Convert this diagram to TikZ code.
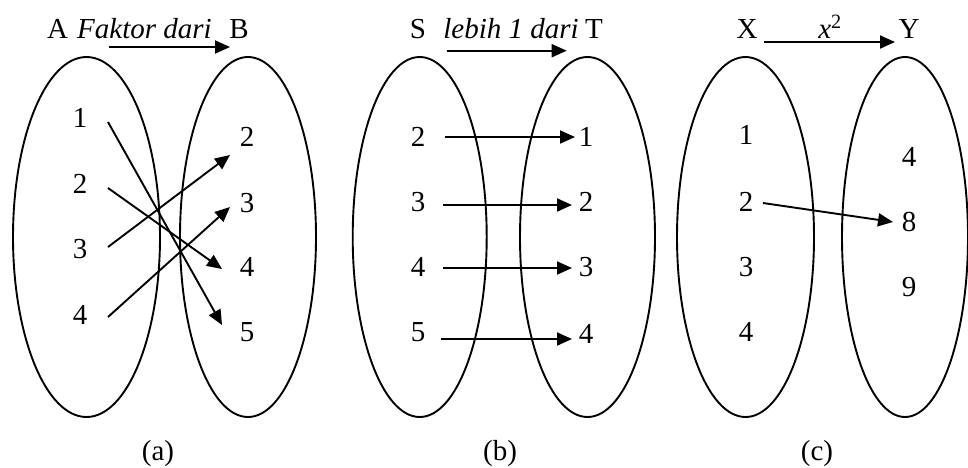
\documentclass[tikz,border=0pt]{standalone}
\usepackage{fontspec}
\setmainfont{Liberation Serif}
\usetikzlibrary{arrows.meta}
\usetikzlibrary{positioning}

\begin{document}
\begin{tikzpicture}[x=1pt, y=-1pt, line width=1.9pt,
    every node/.style={inner sep=0pt, font=\fontsize{29}{34}\selectfont},
    map/.style={-{Triangle[length=15pt,width=13pt]}},
    setname/.style={anchor=base}]
        \useasboundingbox (0,0) rectangle (968,467);
        \clip (0,0) rectangle (968,467);
        % (a) faktor dari
        \draw (86.5,237) ellipse [x radius=73.5, y radius=180];
        \draw (248,237) ellipse [x radius=68, y radius=180];
        \node [setname] (setA) at (57.5,38) {A};
        \node [setname] (relA) at (144.5,38) {\textit{Faktor dari}};
        \node [setname] (setB) at (239,38) {B};
        \coordinate (relAs) at (109,47);
        \coordinate (relAe) at (230,47);
        \draw [map] (relAs) -- (relAe);
        \node (a1) at (80,118) {1};
        \node (a2) at (80,184) {2};
        \node (a3) at (80,249) {3};
        \node (a4) at (80,315) {4};
        \node (b2) at (247,137) {2};
        \node (b3) at (247,203) {3};
        \node (b4) at (247,267) {4};
        \node (b5) at (247,332) {5};
        \draw [map] ([shift={(28,4)}]a1.center) -- ([shift={(-25,-7)}]b5.center);
        \draw [map] ([shift={(28,4)}]a2.center) -- ([shift={(-25,2)}]b4.center);
        \draw [map] ([shift={(28,-2)}]a3.center) -- ([shift={(-17,18)}]b2.center);
        \draw [map] ([shift={(28,2)}]a4.center) -- ([shift={(-17,4)}]b3.center);
        \node (capA) at (158,454) {(a)};
        % (b) lebih 1 dari
        \draw (419.7,237) ellipse [x radius=67, y radius=180];
        \draw (587.5,237) ellipse [x radius=67.5, y radius=180];
        \node [setname] (setS) at (418,38) {S};
        \node [setname] (relB) at (511,38) {\textit{lebih 1 dari}};
        \node [setname] (setT) at (594,38) {T};
        \coordinate (relBs) at (446.7,50.7);
        \coordinate (relBe) at (566.7,50.7);
        \draw [map] (relBs) -- (relBe);
        \node (s2) at (418,137) {2};
        \node (s3) at (418,202) {3};
        \node (s4) at (418,267) {4};
        \node (s5) at (418,332) {5};
        \node (t1) at (586,137) {1};
        \node (t2) at (586,202) {2};
        \node (t3) at (586,267) {3};
        \node (t4) at (586,334) {4};
        \draw [map] ([shift={(27,0)}]s2.center) -- ([shift={(-11,0)}]t1.center);
        \draw [map] ([shift={(25,3)}]s3.center) -- ([shift={(-14,3)}]t2.center);
        \draw [map] ([shift={(25,1)}]s4.center) -- ([shift={(-14,1)}]t3.center);
        \draw [map] ([shift={(23,7)}]s5.center) -- ([shift={(-14,5)}]t4.center);
        \node (capB) at (500,454) {(b)};
        % (c) x kuadrat
        \draw (745.5,237) ellipse [x radius=68.5, y radius=180];
        \draw (905,237) ellipse [x radius=63, y radius=180];
        \node [setname] (setX) at (747,38) {X};
        \node [setname] (relC) at (830,38) {\textit{x}\textsuperscript{2}};
        \node [setname] (setY) at (909,38) {Y};
        \coordinate (relCs) at (764,42);
        \coordinate (relCe) at (895,42);
        \draw [map] (relCs) -- (relCe);
        \node (x1) at (746,135) {1};
        \node (x2) at (746,202) {2};
        \node (x3) at (746,267) {3};
        \node (x4) at (746,332) {4};
        \node (y4) at (909,157) {4};
        \node (y8) at (909,222) {8};
        \node (y9) at (909,287) {9};
        \draw [map] ([shift={(17,1)}]x2.center) -- ([shift={(-16,0)}]y8.center);
        \node (capC) at (817,454) {(c)};
\end{tikzpicture}
\end{document}
